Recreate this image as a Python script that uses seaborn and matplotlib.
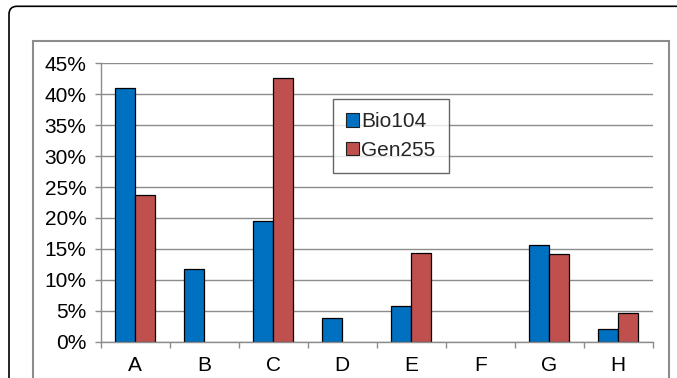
import matplotlib
matplotlib.use("Agg")
import matplotlib.pyplot as plt
from matplotlib.patches import Rectangle, FancyBboxPatch
from matplotlib.ticker import FuncFormatter, FixedLocator
import seaborn as sns
import pandas as pd

categories = ["A", "B", "C", "D", "E", "F", "G", "H"]
bio104 = [0.410, 0.117, 0.195, 0.038, 0.058, 0.0, 0.157, 0.020]
gen255 = [0.237, 0.0, 0.427, 0.0, 0.143, 0.0, 0.142, 0.047]
series_names = ["Bio104", "Gen255"]
colors = ["#0070C0", "#C0504D"]

df = pd.DataFrame({
    "cat": categories * 2,
    "val": bio104 + gen255,
    "series": [series_names[0]] * len(categories) + [series_names[1]] * len(categories),
})

sns.set_theme(style="white")
plt.rcParams["font.family"] = ["Liberation Sans", "DejaVu Sans"]

W, H = 677, 378
fig = plt.figure(figsize=(W / 100, H / 100), dpi=100)
fig.patch.set_facecolor("white")

# outer rounded frame and inner gray frame (pixel coordinates)
outer = FancyBboxPatch((9, -20), 720, H - 6.3 + 20, boxstyle="round,pad=0,rounding_size=8",
                       transform=None, facecolor="none", edgecolor="black", linewidth=1.2)
fig.patches.append(outer)
inner = Rectangle((32.7, -10), 669.3 - 32.7, H - 41.3 + 10, transform=None,
                  facecolor="none", edgecolor="#8c8c8c", linewidth=1.5)
fig.patches.append(inner)

ax = fig.add_axes([100.7 / W, (H - 341.7) / H, (652.7 - 100.7) / W, (341.7 - 63.3) / H])
ax.set_facecolor("none")

sns.barplot(data=df, x="cat", y="val", hue="series", palette=colors, order=categories,
            hue_order=series_names, width=0.58, gap=0, edgecolor="black", linewidth=0.9,
            saturation=1, ax=ax, legend=True)

for p in ax.patches:
    if p.get_height() == 0:
        p.set_linewidth(0)

ax.set_xlim(-0.5, len(categories) - 0.5)
ax.set_ylim(0, 0.45)
ax.set_yticks([i * 0.05 for i in range(10)])
ax.yaxis.set_major_formatter(FuncFormatter(lambda v, _: f"{v * 100:.0f}%"))
ax.grid(axis="y", color="#8c8c8c", linewidth=1.0)
ax.set_axisbelow(True)
ax.set_xlabel("")
ax.set_ylabel("")

for s in ["top", "right"]:
    ax.spines[s].set_visible(False)
for s in ["left", "bottom"]:
    ax.spines[s].set_color("#8c8c8c")
    ax.spines[s].set_linewidth(1.0)

# category boundary ticks (minor) on x, labels centered
ax.xaxis.set_minor_locator(FixedLocator([i - 0.5 for i in range(len(categories) + 1)]))
ax.tick_params(axis="x", which="major", length=0, pad=10.5, labelsize=15, labelcolor="black")
ax.tick_params(axis="x", which="minor", bottom=True, length=4.3, width=1, color="#8c8c8c")
ax.tick_params(axis="y", which="major", left=True, length=4.3, width=1, color="#8c8c8c",
               pad=6.0, labelsize=15, labelcolor="black")

leg = ax.legend(loc="upper left", bbox_to_anchor=(332.7 / W, (H - 98.7) / H),
                bbox_transform=fig.transFigure, borderaxespad=0, frameon=True, fancybox=False,
                fontsize=15, handlelength=0.62, handleheight=0.62, handletextpad=0.1,
                labelspacing=0.45, borderpad=0.65, title=None)
leg.get_frame().set_edgecolor("#404040")
leg.get_frame().set_linewidth(1.0)
for h in leg.legend_handles:
    h.set_edgecolor("#202020")
    h.set_linewidth(0.8)

fig.savefig("out.png", dpi=100)
